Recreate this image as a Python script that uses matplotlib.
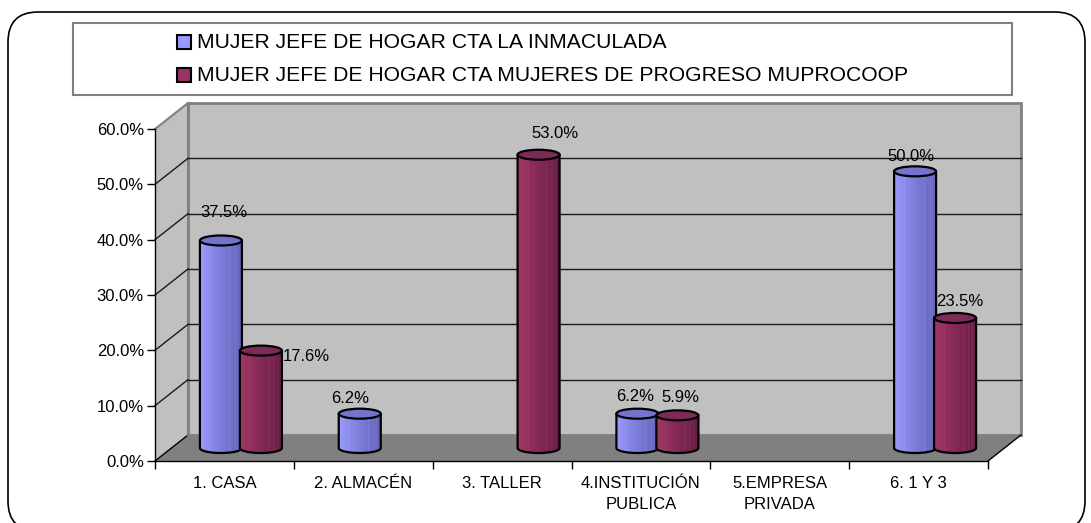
import numpy as np
import matplotlib
matplotlib.use('Agg')
import matplotlib.pyplot as plt
from matplotlib.patches import Polygon, Rectangle, FancyBboxPatch, Ellipse
from matplotlib.transforms import IdentityTransform

# ---------------- data ----------------
categories = ["1. CASA", "2. ALMACÉN", "3. TALLER", "4.INSTITUCIÓN\nPUBLICA",
              "5.EMPRESA\nPRIVADA", "6. 1 Y 3"]
series_names = ["MUJER JEFE DE HOGAR CTA LA INMACULADA",
                "MUJER JEFE DE HOGAR CTA MUJERES DE PROGRESO MUPROCOOP"]
inmaculada = [37.5, 6.2, 0.0, 6.2, 0.0, 50.0]
muprocoop = [17.6, 0.0, 53.0, 5.9, 0.0, 23.5]
y_ticks = [0, 10, 20, 30, 40, 50, 60]

# label offsets in pixels (style only)
label_off_blue = [(3, 28), (-10, 15), (0, 0), (-2, 17), (0, 0), (-4, 15)]
label_off_red = [(45, -6), (0, 0), (16, 21), (3, 18), (0, 0), (5, 16)]

plt.rcParams['font.family'] = ['Liberation Sans', 'DejaVu Sans']

W, H = 1091, 523
fig = plt.figure(figsize=(W / 100, H / 100), dpi=100)
fig.patch.set_facecolor('white')


def fx(px):
    return px / W


def fy(py):
    return 1 - py / H


# outer rounded border (pixel coordinates)
border = FancyBboxPatch((8, -8), 1077, 519, boxstyle="round,pad=0,rounding_size=30",
                        transform=IdentityTransform(), fc='none', ec='black', lw=1.2,
                        zorder=-5)
fig.add_artist(border)

# front plane axes
ax_l, ax_r, ax_b, ax_t = 155, 988, 461, 129
ax = fig.add_axes([fx(ax_l), fy(ax_b), (ax_r - ax_l) / W, (ax_b - ax_t) / H])
n = len(categories)
ymax = y_ticks[-1]
ax.set_xlim(0, n)
ax.set_ylim(0, ymax)
ax.patch.set_visible(False)

ux = (ax_r - ax_l) / n
uy = (ax_b - ax_t) / ymax
ddx = 33 / ux
ddy = 26 / uy

# walls and floor
ax.add_patch(Polygon([(0, 0), (ddx, ddy), (ddx, ymax + ddy), (0, ymax)], closed=True,
                     fc='#C0C0C0', ec='none', clip_on=False, zorder=0))
ax.add_patch(Rectangle((ddx, ddy), n, ymax, fc='#C0C0C0', ec='#808080', lw=2,
                       clip_on=False, zorder=0))
ax.add_patch(Polygon([(0, 0), (n, 0), (n + ddx, ddy), (ddx, ddy)], closed=True,
                     fc='#808080', ec='none', clip_on=False, zorder=0.5))
ax.plot([0, ddx], [ymax, ymax + ddy], color='#808080', lw=1.5, clip_on=False, zorder=1)
ax.plot([0, ddx], [0, ddy], color='black', lw=1, clip_on=False, zorder=1)
ax.plot([n, n + ddx], [0, ddy], color='black', lw=1, clip_on=False, zorder=1)
ax.plot([ddx, ddx], [ddy, ymax + ddy], color='#808080', lw=1.5, clip_on=False, zorder=1)
for v in y_ticks[1:-1]:
    ax.plot([ddx, n + ddx], [v + ddy, v + ddy], color='#1a1a1a', lw=1, clip_on=False, zorder=1)
    ax.plot([0, ddx], [v, v + ddy], color='#1a1a1a', lw=1, clip_on=False, zorder=1)

# cylinders
half_w = 21 / ux
ell_b = 5 / uy
pair_off = 20 / ux


def gradient(left, right, stripes):
    N = 60
    t = np.linspace(0, 1, N)
    left = np.array(left) / 255.0
    right = np.array(right) / 255.0
    cols = left[None, :] + (right - left)[None, :] * (t ** 0.9)[:, None]
    for pos, amt in stripes:
        idx = int(pos * (N - 1))
        cols[idx] = np.clip(cols[idx] + amt, 0, 1)
    return cols[None, :, :]


blue_grad = gradient((155, 155, 255), (100, 100, 185), [(0.25, 0.05), (0.72, 0.08), (0.85, 0.06), (0.9, 0.05)])
red_grad = gradient((165, 55, 105), (105, 30, 70), [(0.25, 0.05), (0.7, 0.08), (0.82, 0.07), (0.9, 0.05)])
blue_top = '#7474CC'
red_top = '#7E2A58'


def cylinder(xc, val, grad, top_color, z):
    y0 = ddy / 2
    y1 = val + ddy / 2
    t = np.linspace(np.pi, 2 * np.pi, 60)
    arc = list(zip(xc + half_w * np.cos(t), y0 + ell_b * np.sin(t)))
    verts = [(xc - half_w, y1)] + arc + [(xc + half_w, y1)]
    im = ax.imshow(grad, extent=(xc - half_w, xc + half_w, y0 - ell_b, y1),
                   aspect='auto', zorder=z, interpolation='bilinear')
    clip = Polygon(verts, closed=True, transform=ax.transData)
    im.set_clip_path(clip)
    ax.add_patch(Polygon(verts, closed=True, fc='none', ec='black', lw=1.6, zorder=z + 0.1,
                         joinstyle='round'))
    ax.add_patch(Ellipse((xc, y1), 2 * half_w, 2 * ell_b, fc=top_color, ec='black',
                         lw=1.6, zorder=z + 0.2))
    return y1


for i in range(n):
    base = i + 0.5 + ddx / 2
    if inmaculada[i] > 0:
        xb = base - pair_off
        top = cylinder(xb, inmaculada[i], blue_grad, blue_top, 3 + i)
        dx, dy = label_off_blue[i]
        ax.annotate(f"{inmaculada[i]:.1f}%", xy=(xb, top), xytext=(dx, dy),
                    textcoords='offset pixels', ha='center', va='center',
                    fontsize=12, color='black', zorder=20)
    if muprocoop[i] > 0:
        xr = base + pair_off
        top = cylinder(xr, muprocoop[i], red_grad, red_top, 3.5 + i)
        dx, dy = label_off_red[i]
        ax.annotate(f"{muprocoop[i]:.1f}%", xy=(xr, top), xytext=(dx, dy),
                    textcoords='offset pixels', ha='center', va='center',
                    fontsize=12, color='black', zorder=20)

ax.set_xlim(0, n)
ax.set_ylim(0, ymax)

# axes styling
for s in ['top', 'right']:
    ax.spines[s].set_visible(False)
for s in ['left', 'bottom']:
    ax.spines[s].set_color('black')
    ax.spines[s].set_linewidth(1)
    ax.spines[s].set_zorder(2)

ax.set_yticks(y_ticks)
ax.set_yticklabels([f"{v:.1f}%" for v in y_ticks])
ax.tick_params(axis='y', length=6, width=1, direction='out', pad=2, labelsize=12)
ax.set_xticks(np.arange(n) + 0.5)
ax.set_xticklabels(categories)
ax.set_xticks(np.arange(n + 1), minor=True)
ax.tick_params(axis='x', which='major', length=0, pad=11, labelsize=12)
ax.tick_params(axis='x', which='minor', length=6, width=1, direction='out')
for lab in ax.get_xticklabels():
    lab.set_linespacing(1.45)

# legend box
fig.add_artist(Rectangle((fx(73), fy(95)), (1012 - 73) / W, (95 - 23) / H,
                         transform=fig.transFigure, fc='white', ec='#808080', lw=1.5))
legend_colors = ['#9999FF', '#993366']
legend_y = [42, 75]
for name, col, ly in zip(series_names, legend_colors, legend_y):
    fig.add_artist(Rectangle((fx(177), fy(ly + 7)), 14 / W, 14 / H, transform=fig.transFigure,
                             fc=col, ec='black', lw=1.5))
    fig.text(fx(197), fy(ly), name, fontsize=15.2, ha='left', va='center', color='black')

fig.savefig('out.png', dpi=100)
